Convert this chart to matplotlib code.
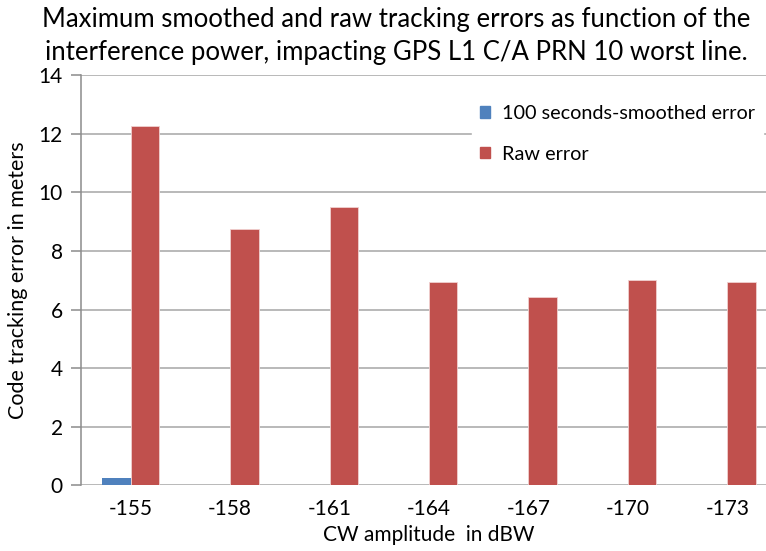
import numpy as np
import matplotlib.pyplot as plt
from matplotlib.patches import Patch

# CW amplitude (dBW) and maximum code tracking errors (m)
cw_amplitude = ['-155', '-158', '-161', '-164', '-167', '-170', '-173']
smoothed_err = [0.25, 0.0, 0.0, 0.0, 0.0, 0.0, 0.0]
raw_err = [12.25, 8.73, 9.49, 6.94, 6.44, 7.02, 6.94]

plt.rcParams['font.family'] = ['Lato', 'DejaVu Sans']

fig = plt.figure(figsize=(7.66, 5.51), dpi=100)
ax = fig.add_axes([81 / 766, 65.6 / 551, 696 / 766, 410.4 / 551])

blue = '#4F81BD'
red = '#C0504D'
x = np.arange(len(cw_amplitude))
w = 1 / 3.5  # gap width 150%
ax.bar(x - w / 2, smoothed_err, w, color=blue, zorder=3)
ax.bar(x + w / 2, raw_err, w, color=red, edgecolor='#f0d0d0', linewidth=0.6, zorder=3)

ax.set_xlim(-0.5, len(cw_amplitude) - 0.5)
ax.set_ylim(0, 14)
ax.set_yticks(np.arange(0, 15, 2))
ax.set_xticks(x)
ax.set_xticklabels(cw_amplitude)
ax.yaxis.grid(True, color='#a6a6a6', linewidth=1.1, zorder=0)
ax.set_axisbelow(True)

for s in ['top', 'right', 'bottom']:
    ax.spines[s].set_visible(False)
ax.spines['left'].set_color('#8c8c8c')
ax.spines['left'].set_linewidth(1.1)
ax.tick_params(axis='y', length=7, color='#8c8c8c', width=1.1, labelsize=15, pad=6)
ax.tick_params(axis='x', length=0, labelsize=15, pad=10)

ax.set_xlabel('CW amplitude  in dBW', fontsize=15, labelpad=4)
ax.set_ylabel('Code tracking error in meters', fontsize=15.5, labelpad=8)

fig.text(396 / 766, 1 - 19 / 551, 'Maximum smoothed and raw tracking errors as function of the',
         ha='center', va='center', fontsize=18.5)
fig.text(396 / 766, 1 - 53 / 551, 'interference power, impacting GPS L1 C/A PRN 10 worst line.',
         ha='center', va='center', fontsize=18.5)

handles = [Patch(color=blue), Patch(color=red)]
leg = fig.legend(handles, ['100 seconds-smoothed error', 'Raw error'],
                 loc='upper left', bbox_to_anchor=(472 / 766, 1 - 97 / 551),
                 fontsize=14.3, frameon=True, fancybox=False, edgecolor='white',
                 facecolor='white', framealpha=1, handlelength=0.5, handleheight=0.5,
                 handletextpad=0.6, labelspacing=1.2, borderpad=0.4, borderaxespad=0)
leg.set_zorder(5)

plt.savefig('out.png', dpi=100)
